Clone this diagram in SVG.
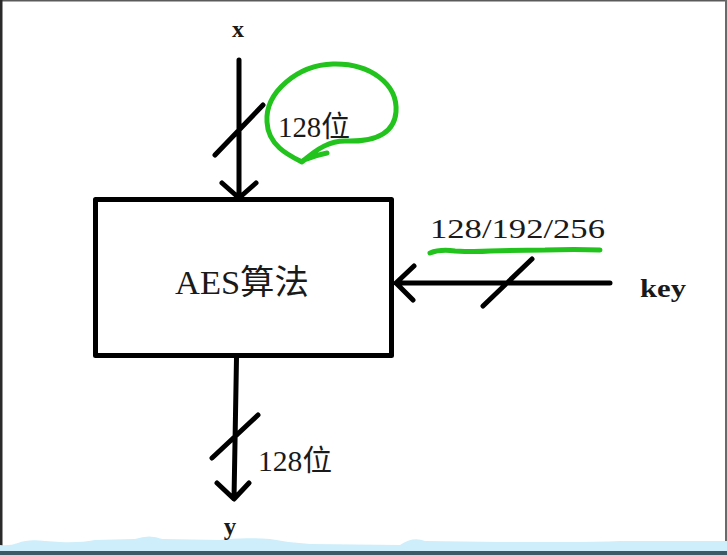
<svg xmlns="http://www.w3.org/2000/svg" width="727" height="555" viewBox="0 0 727 555">
<style>
.ln{stroke:#000;stroke-width:5;fill:none;stroke-linecap:round;stroke-linejoin:round}
.t{font-family:"Liberation Serif","Noto Sans CJK SC",serif;fill:#1a1a1a}
.b{font-weight:bold}
.g{stroke:#22c31c;stroke-width:5;fill:none;stroke-linecap:round;stroke-linejoin:round}
</style>
<rect x="0" y="0" width="727" height="555" fill="#ffffff"/>
<g id="frame">
<rect x="0" y="0" width="727" height="1.5" fill="#5a5a5a"/>
<rect x="0" y="0" width="2.5" height="555" fill="#2a2a2a"/>
<rect x="725" y="0" width="2" height="555" fill="#6a6a6a"/>
<path d="M0 545 Q10 546 18 543 Q28 539 45 541 L60 542 Q80 543 95 540 L135 539 Q150 534 162 539 L220 540 Q240 537 270 539 Q290 543 310 544 L400 545 Q413 536 425 541 L500 542 L560 542 Q600 542 620 541 L727 541 L727 552 L0 552 Z" fill="#cdeefa"/>
<rect x="0" y="551" width="727" height="4" fill="#3b5a66"/>
</g>
<g id="aes">
<rect class="ln" x="95.5" y="199.5" width="296" height="156"/>
<text class="t" x="242" y="294" font-size="34" text-anchor="middle" textLength="134" lengthAdjust="spacingAndGlyphs">AES算法</text>
</g>
<g id="x"><text class="t b" x="238" y="37" font-size="24" text-anchor="middle">x</text></g>
<g id="key"><text class="t b" x="640" y="297" font-size="25" textLength="46" lengthAdjust="spacingAndGlyphs">key</text></g>
<g id="y"><text class="t b" x="230" y="535" font-size="25" text-anchor="middle">y</text></g>
<g id="connectors">
<g id="in-x">
<path class="ln" d="M239 60 L239 198 M222 183 L239 198 L256 183 M215 155 L263 105"/>
<text class="t" x="278" y="137" font-size="29" textLength="72" lengthAdjust="spacingAndGlyphs">128位</text>
</g>
<g id="in-key">
<path class="ln" d="M610 283 L396 283 M414 266 L396 283 L413 300 M483 306 L532 259"/>
<text class="t" x="430" y="238" font-size="27" textLength="175" lengthAdjust="spacingAndGlyphs">128/192/256</text>
</g>
<g id="out-y">
<path class="ln" d="M236.5 358 L234 499 M217 483 L234 499 L249 483 M212 458 L258 415"/>
<text class="t" x="258" y="471" font-size="29" textLength="74" lengthAdjust="spacingAndGlyphs">128位</text>
</g>
</g>
<g id="marks">
<path class="g" d="M302 162 C290 156 268 146 267 122 C265 92 298 65 333 64 C370 63 398 84 396 112 C394 136 370 142 345 141 C330 141 318 148 303 161 M304 160 Q316 155 327 153"/>
<path class="g" d="M430 253 Q440 249 455 251 Q475 252 490 251 Q520 250 545 250 Q575 249 600 250"/>
</g>
</svg>
